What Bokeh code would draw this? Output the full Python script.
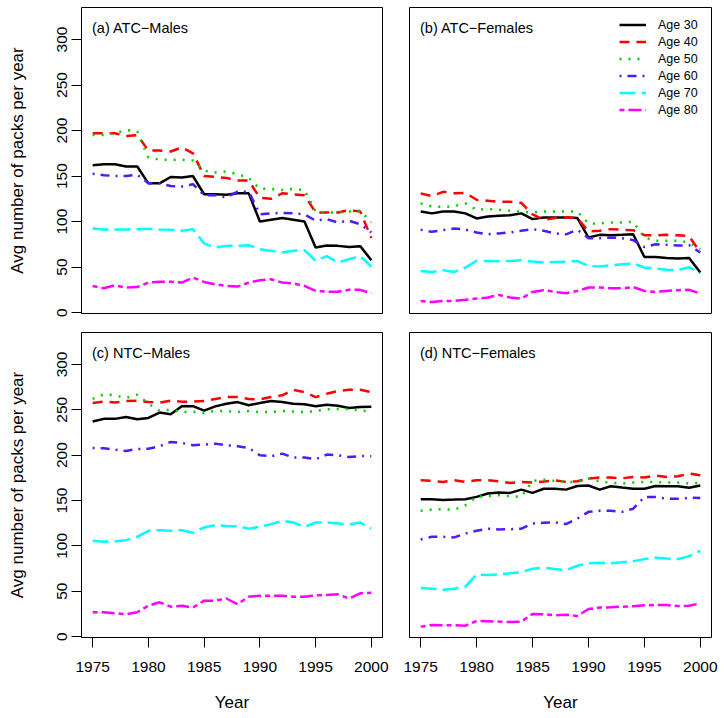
from bokeh.plotting import figure
from bokeh.layouts import column, row
from bokeh.models import Range1d, FixedTicker, Label, Legend, LegendItem
from bokeh.embed import file_html
from bokeh.resources import INLINE

years = list(range(1975, 2001))
ages = ["Age 30", "Age 40", "Age 50", "Age 60", "Age 70", "Age 80"]
x_ticks = [1975, 1980, 1985, 1990, 1995, 2000]
y_ticks = [0, 50, 100, 150, 200, 250, 300]

# (a) ATC-Males
a30 = [162, 163, 163, 160.5, 160.5, 142, 142, 149, 148.5, 150, 130, 130, 129.5, 131, 131, 100, 102, 104, 102, 100, 71.5, 73.7, 73.3, 72, 73, 57.6]
a40 = [197, 197, 197, 194, 195, 178, 178, 177, 181.5, 175, 150, 149, 148, 145, 145, 126, 125, 131, 130, 129, 110, 110, 110, 112.6, 111, 82]
a50 = [195, 195, 197, 200.6, 199, 170.5, 168, 168, 168, 167, 156, 154, 155, 152, 148, 136, 136, 134.6, 136, 134.6, 111, 110, 110, 111, 112, 99]
a60 = [152.5, 151, 150, 150, 151.5, 142, 142, 139, 138.6, 141, 129, 129, 126.5, 133, 133, 108, 109, 109.6, 109, 108, 101, 102.7, 99, 101, 97, 88]
a70 = [92.4, 91.3, 91.3, 91.3, 91.7, 92, 91.3, 91, 90, 91.7, 76, 71.5, 73.3, 73.3, 74, 69.7, 68, 66, 68, 68.6, 57, 62, 55, 58.7, 62, 50.6]
a80 = [29.3, 26.8, 30, 27.5, 28, 33, 34, 34, 33, 38.5, 33.7, 31, 29.3, 28.6, 33, 35.6, 36.7, 33, 32, 29.3, 23.8, 23, 23, 25, 25, 21.3]

# (b) ATC-Females
b30 = [111, 109, 111, 111, 109, 103.4, 105.6, 106.3, 107, 109, 102.7, 104.5, 104.5, 104.5, 104, 82.5, 85.4, 85, 85.4, 86, 61, 61, 60, 59.4, 60, 44]
b40 = [131, 128, 132.7, 131, 131.6, 124, 123, 121.7, 121.7, 120.6, 108, 102, 104, 104.5, 104, 89, 90, 91.7, 91, 90.6, 85, 85, 85.4, 85, 84, 66]
b50 = [120, 116.6, 116, 117, 120, 113, 113.7, 113, 112, 110.7, 110, 111, 111, 111, 111, 98, 98, 99, 99, 99.7, 82.5, 79, 79, 79, 77, 69.7]
b60 = [91, 88.7, 90.6, 92.4, 91.3, 88, 86, 87, 88, 90, 91.7, 90, 87, 86, 91, 81.8, 81.8, 82.5, 81.8, 79.6, 72, 75, 74.4, 73.7, 74, 66]
b70 = [45.8, 44.7, 46.6, 44.7, 49.5, 56.8, 56.8, 56.5, 56.8, 57.6, 56, 55, 55.7, 56, 56.8, 51.3, 50.6, 52, 53, 54, 49.5, 48.4, 47, 46.6, 50, 43]
b80 = [12.8, 11.7, 12.8, 12.8, 14, 15.4, 16.5, 19.4, 16.5, 15.4, 22.7, 24.6, 22.7, 21.3, 23.8, 27.5, 27.5, 26.8, 26.8, 28, 23.8, 22.7, 23.8, 24.6, 25, 21]

# (c) NTC-Males
c30 = [237, 240, 240, 242, 239.5, 241, 247, 245, 254, 254, 249, 253.8, 256.7, 258.5, 255, 257.4, 259.6, 258.5, 256.7, 256, 254, 255.6, 254.5, 252, 253, 253.4]
c40 = [257.4, 259, 258, 259.6, 260, 258.5, 258, 260, 259, 259, 259.6, 261.8, 264, 264, 262, 261.5, 264, 266, 272, 269.5, 264, 267.6, 270.6, 272, 272, 269.5]
c50 = [262, 267, 266, 263, 266.6, 256.7, 249, 250, 247.5, 248, 246.4, 249, 248.6, 247.5, 248.6, 247.5, 247.5, 248.6, 248, 247.5, 248.6, 250.5, 251, 251, 249, 248.6]
c60 = [208, 207.5, 206, 204.6, 206.8, 207, 209.8, 214.5, 213.4, 211, 211.6, 212.7, 211, 209.8, 208, 199.8, 198.8, 201.7, 197.3, 197.3, 195.5, 200.6, 199.8, 198, 199, 198.8]
c70 = [105.6, 104.5, 105.2, 106.3, 110, 116.6, 117.3, 116.6, 117.3, 114.4, 120.3, 122.8, 122, 121.7, 119, 121, 124, 127.6, 125.8, 121, 125.8, 125.8, 124.7, 123.6, 125.8, 119]
c80 = [26.8, 26.8, 25.7, 24.6, 26.8, 34, 37.8, 33, 34, 32, 39.6, 39.6, 42, 35.6, 44, 45, 45, 45, 44, 44, 45.5, 45.8, 46.6, 42, 47.7, 48.4]

# (d) NTC-Females
d30 = [151.4, 151.4, 150.7, 151, 151.4, 154, 157.7, 158.8, 158.4, 162, 158.4, 163, 163, 162, 166, 166.5, 162, 165.7, 164.3, 163, 163, 166, 165.7, 165.7, 164, 166.5]
d40 = [172.3, 171.6, 170.5, 172.3, 170.5, 172.3, 172.3, 171.2, 169.4, 170.5, 169.8, 171, 172.3, 170.5, 171.2, 174.2, 175.3, 175.3, 174.5, 176, 175.3, 177.5, 176, 176.7, 179.7, 177.8]
d50 = [138.6, 140, 140.4, 139.7, 144.8, 154, 155, 155.8, 154.7, 154, 171.6, 173, 171.6, 170.5, 170.5, 174.2, 171.2, 169.4, 168.7, 169.8, 170.5, 170.5, 169.8, 169.8, 168.7, 169.4]
d60 = [107, 110, 110, 109.3, 113.7, 116.6, 119, 118, 118.4, 119, 124.7, 125.4, 126, 124, 130, 137.5, 138.6, 138.6, 137.5, 141, 154, 154, 152, 152, 153, 152.9]
d70 = [53.5, 52.8, 51.7, 52.8, 55, 68.6, 67.8, 68.6, 69.7, 71, 74.8, 76, 74.4, 73.3, 78, 80.7, 81.4, 80.7, 82, 83.2, 85.4, 87, 86, 85.4, 88.7, 94.6]
d80 = [11, 12.8, 12.5, 12.5, 12, 17.2, 16.9, 16.5, 16, 16.5, 25, 24.6, 23.5, 24.2, 22.7, 30.4, 32, 32.3, 33, 33.4, 34.5, 34.8, 34.8, 33.7, 34, 36.7]

colors = ["#000000", "#FF0000", "#00CD00", "#4F1BF7", "#00FFFF", "#FF00FF"]
dashes = ["solid", "10 7", "2 7", "2 6 9 6", "16 6", "5 4 13 4"]

FONT = "Liberation Sans"


def make_panel(series, title, left, bottom, legend):
    bl = 81 if left else 14
    br = 13
    bt = 9 if bottom else 7
    bb = 81 if bottom else 10
    fw = 301 if left else 302
    fh = 305 if bottom else 306
    p = figure(width=bl + fw + br, height=bt + fh + bb,
               x_range=Range1d(1974, 2001), y_range=Range1d(-1, 335.2),
               output_backend="svg", toolbar_location=None,
               x_axis_location="below" if bottom else None,
               y_axis_location="left" if left else None,
               min_border_left=bl, min_border_right=br,
               min_border_top=bt, min_border_bottom=bb)
    p.outline_line_color = "black"
    p.outline_line_width = 1
    p.outline_line_alpha = 1
    p.grid.grid_line_color = None
    p.background_fill_color = "white"
    p.border_fill_color = "white"
    for ax in p.xaxis:
        ax.ticker = FixedTicker(ticks=x_ticks)
        ax.axis_label = "Year"
        ax.major_label_standoff = 14
        ax.axis_label_standoff = 18
    for ax in p.yaxis:
        ax.ticker = FixedTicker(ticks=y_ticks)
        ax.axis_label = "Avg number of packs per year"
        ax.major_label_orientation = "vertical"
        ax.major_label_standoff = 4
        ax.axis_label_standoff = 28
    for ax in list(p.xaxis) + list(p.yaxis):
        ax.axis_line_color = None
        ax.major_tick_out = 10
        ax.major_tick_in = 0
        ax.major_tick_line_color = "black"
        ax.minor_tick_line_color = None
        ax.major_label_text_font = FONT
        ax.major_label_text_font_size = "15.5px"
        ax.major_label_text_color = "black"
        ax.axis_label_text_font = FONT
        ax.axis_label_text_font_size = "17px"
        ax.axis_label_text_font_style = "normal"
        ax.axis_label_text_color = "black"
    renderers = []
    for vals, c, d in zip(series, colors, dashes):
        r = p.line(years, vals, line_color=c, line_width=2.5, line_dash=d)
        renderers.append(r)
    p.add_layout(Label(x=10.5, y=fh - 20, x_units="screen", y_units="screen",
                       text=title, text_font=FONT, text_font_size="14.5px",
                       text_baseline="middle", text_color="black"))
    if legend:
        lg = Legend(items=[LegendItem(label=a, renderers=[r]) for a, r in zip(ages, renderers)],
                    location=(210, 195), glyph_width=27, glyph_height=17,
                    label_height=17, spacing=0, padding=0, margin=0,
                    label_standoff=12, background_fill_alpha=0,
                    border_line_alpha=0, label_text_font=FONT,
                    label_text_font_size="12.5px", label_text_color="black")
        p.add_layout(lg)
    return p


pa = make_panel([a30, a40, a50, a60, a70, a80], "(a) ATC\u2212Males", True, False, False)
pb = make_panel([b30, b40, b50, b60, b70, b80], "(b) ATC\u2212Females", False, False, True)
pc = make_panel([c30, c40, c50, c60, c70, c80], "(c) NTC\u2212Males", True, True, False)
pd_ = make_panel([d30, d40, d50, d60, d70, d80], "(d) NTC\u2212Females", False, True, False)

layout = column(row(pa, pb), row(pc, pd_))
open("out.html", "w").write(file_html(layout, INLINE))
